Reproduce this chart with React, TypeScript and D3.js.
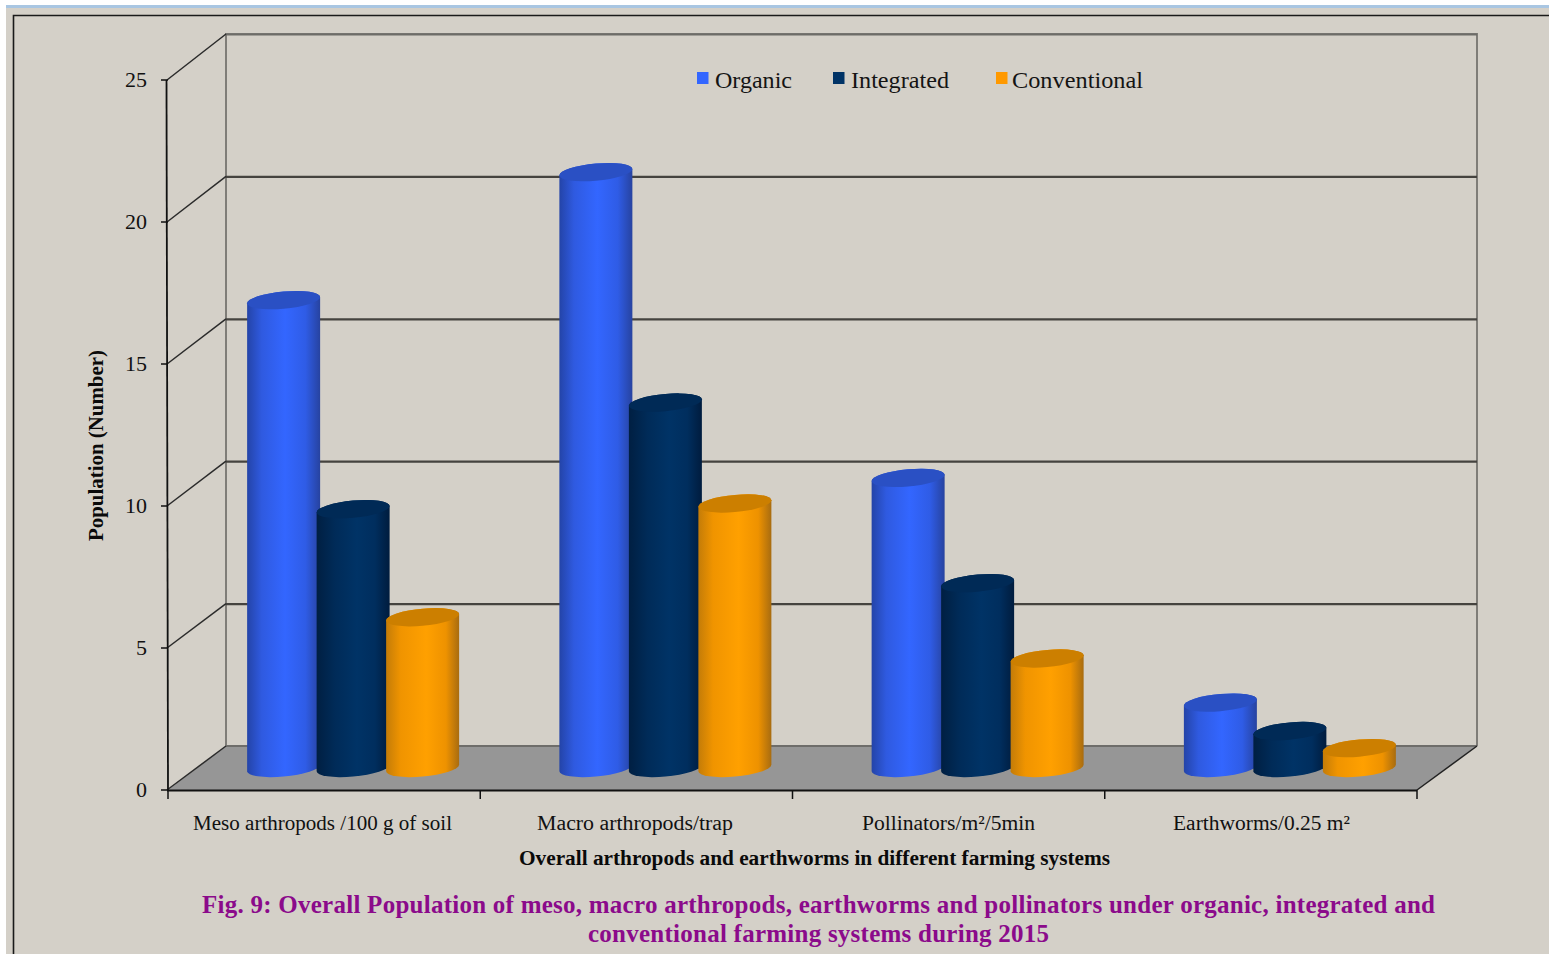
import React from "react";
import * as d3 from "d3";

// Population counts per farming system
const categories = [
  "Meso arthropods /100 g of soil",
  "Macro arthropods/trap",
  "Pollinators/m²/5min",
  "Earthworms/0.25 m²",
];
const organic = [16.45, 20.95, 10.2, 2.3];
const integrated = [9.1, 12.85, 6.5, 1.3];
const conventional = [5.3, 9.3, 3.85, 0.7];
const seriesNames = ["Organic", "Integrated", "Conventional"];
const yTicks = [0, 5, 10, 15, 20, 25];

const bodyStops = [
  [
    ["0%", "#2444a8"], ["20%", "#2f5ae0"], ["52%", "#3366ff"], ["80%", "#2f5ce6"], ["100%", "#2743a0"],
  ],
  [
    ["0%", "#001f42"], ["25%", "#002b58"], ["55%", "#003366"], ["80%", "#002e5e"], ["100%", "#001c3e"],
  ],
  [
    ["0%", "#c47c08"], ["20%", "#f09400"], ["55%", "#ffa000"], ["82%", "#ee9200"], ["100%", "#a86c10"],
  ],
];
const lidColors = ["#2a50c4", "#002a56", "#cc7f00"];
const legendColors = ["#3366ff", "#003366", "#ff9900"];

const depthX = 58;
const floorX0 = 168;
const floorX1 = 1417;

const yFront = d3.scaleLinear().domain([0, 25]).range([790, 80]);
const yBack = d3.scaleLinear().domain([0, 25]).range([746, 34]);
const yMid = d3.scaleLinear().domain([0, 25]).range([768, 57]);
const xGroup = d3.scaleBand().domain(categories).range([floorX0, floorX1]);
const xSeries = d3.scaleLinear().domain([0, 1, 2]).range([-69.5, 0, 69.5]);

const RX = 36.5;
const RY = 8.6;
const SHEAR = 3.2 / RX;

// Upright cylinder with a slightly tilted elliptical lid and base
function Cylinder({ cx, value, series }: { cx: number; value: number; series: number }) {
  const top = yMid(value);
  const bottom = yMid(0);
  const d =
    `M${-RX},${top}L${-RX},${bottom}` +
    `A${RX},${RY} 0 0 0 ${RX},${bottom}` +
    `L${RX},${top}` +
    `A${RX},${RY} 0 0 0 ${-RX},${top}Z`;
  return (
    <g transform={`matrix(1,${-SHEAR},0,1,${cx},0)`}>
      <path d={d} fill={`url(#cyl${series})`} />
      <ellipse cx={0} cy={top} rx={RX} ry={RY} fill={lidColors[series]} />
    </g>
  );
}

export default function App() {
  const serif = "'Liberation Serif', 'Times New Roman', serif";
  const allSeries = [organic, integrated, conventional];
  const backLeft = floorX0 + depthX;
  const backRight = floorX1 + depthX + 2;
  const legendItems = [
    { sx: 697, tx: 715, w: 77 },
    { sx: 833, tx: 851, w: 98 },
    { sx: 996, tx: 1012, w: 131 },
  ];
  const labelSpans = [
    { x: 193, w: 259 },
    { x: 537, w: 196 },
    { x: 862, w: 173 },
    { x: 1173, w: 177 },
  ];
  const groupTicks = [...categories.map((c) => xGroup(c) as number), floorX1];

  return (
    <svg
      width={1549}
      height={954}
      viewBox="0 0 1549 954"
      style={{ position: "absolute", left: 0, top: 0, background: "#fff" }}
      fontFamily={serif}
    >
      <defs>
        {bodyStops.map((stops, i) => (
          <linearGradient key={i} id={`cyl${i}`} x1="0" x2="1" y1="0" y2="0">
            {stops.map(([o, c]) => (
              <stop key={o} offset={o} stopColor={c} />
            ))}
          </linearGradient>
        ))}
      </defs>

      {/* window surface and frame */}
      <rect x={6} y={5} width={1543} height={949} fill="#d4d0c8" />
      <rect x={6} y={5} width={1543} height={3} fill="#a9c6e2" />
      <path d="M13.5,954V15.5H1549" fill="none" stroke="#1a1a1a" strokeWidth={1.6} />

      {/* floor */}
      <polygon
        points={`${floorX0},${yFront(0)} ${backLeft},${yBack(0)} ${backRight},${yBack(0)} ${floorX1},${yFront(0)}`}
        fill="#969696"
      />

      {/* back wall outline */}
      <path
        d={`M${backLeft},${yBack(0)}V${yBack(25)}H${backRight}V${yBack(0)}`}
        fill="none"
        stroke="#7f7d78"
        strokeWidth={2}
      />
      <line x1={backLeft} x2={backRight} y1={yBack(0)} y2={yBack(0)} stroke="#6e6d6a" strokeWidth={2} />

      {/* gridlines on the back and side walls */}
      {yTicks.map((t) => (
        <g key={t}>
          {t > 0 && (
            <line
              x1={backLeft}
              x2={backRight}
              y1={yBack(t) + 0.5}
              y2={yBack(t) + 0.5}
              stroke={t === 25 ? "#6d6c68" : "#45433f"}
              strokeWidth={t === 25 ? 2 : 2.3}
            />
          )}
          <line x1={floorX0 - 1} x2={backLeft} y1={yFront(t)} y2={yBack(t)} stroke="#2b2b2b" strokeWidth={1.5} />
        </g>
      ))}
      <line x1={floorX1} x2={backRight} y1={yFront(0)} y2={yBack(0)} stroke="#222" strokeWidth={1.5} />

      {/* cylinders */}
      {categories.map((c, ci) => {
        const center = (xGroup(c) as number) + xGroup.bandwidth() / 2 + depthX / 2;
        return allSeries.map((values, si) => (
          <Cylinder key={`${ci}-${si}`} cx={center + xSeries(si)} value={values[ci]} series={si} />
        ));
      })}

      {/* value axis */}
      <line x1={166.5} x2={168} y1={yFront(25)} y2={yFront(0)} stroke="#111" strokeWidth={1.8} />
      {yTicks.map((t) => (
        <g key={t}>
          <line x1={161} x2={168} y1={yFront(t)} y2={yFront(t)} stroke="#111" strokeWidth={1.5} />
          <text x={147} y={yFront(t) + 7} textAnchor="end" fontSize={22} fill="#111">
            {t}
          </text>
        </g>
      ))}

      {/* category axis */}
      <line x1={floorX0 - 1} x2={floorX1} y1={yFront(0) + 0.5} y2={yFront(0) + 0.5} stroke="#111" strokeWidth={2} />
      {groupTicks.map((x) => (
        <line key={x} x1={x} x2={x} y1={yFront(0)} y2={799} stroke="#111" strokeWidth={1.5} />
      ))}
      {categories.map((c, i) => (
        <text
          key={c}
          x={labelSpans[i].x}
          y={830}
          fontSize={20.5}
          fill="#111"
          textLength={labelSpans[i].w}
          lengthAdjust="spacingAndGlyphs"
        >
          {c}
        </text>
      ))}

      {/* axis titles */}
      <text
        x={519}
        y={865}
        fontSize={20}
        fontWeight={700}
        fill="#0a0a0a"
        textLength={591}
        lengthAdjust="spacingAndGlyphs"
      >
        Overall arthropods and earthworms in different farming systems
      </text>
      <text
        transform="translate(103,541) rotate(-90)"
        fontSize={20}
        fontWeight={700}
        fill="#0a0a0a"
        textLength={191}
        lengthAdjust="spacingAndGlyphs"
      >
        Population (Number)
      </text>

      {/* legend */}
      {seriesNames.map((name, i) => (
        <g key={name}>
          <rect x={legendItems[i].sx} y={72} width={11.5} height={12} fill={legendColors[i]} />
          <text
            x={legendItems[i].tx}
            y={88}
            fontSize={24}
            fill="#141414"
            textLength={legendItems[i].w}
            lengthAdjust="spacingAndGlyphs"
          >
            {name}
          </text>
        </g>
      ))}

      {/* caption */}
      <text
        x={202}
        y={913}
        fontSize={25}
        fontWeight={700}
        fill="#8b0a8b"
        textLength={1233}
        lengthAdjust="spacing"
      >
        Fig. 9: Overall Population of meso, macro arthropods, earthworms and pollinators under organic, integrated and
      </text>
      <text
        x={588}
        y={942}
        fontSize={25}
        fontWeight={700}
        fill="#8b0a8b"
        textLength={461}
        lengthAdjust="spacing"
      >
        conventional farming systems during 2015
      </text>
    </svg>
  );
}
